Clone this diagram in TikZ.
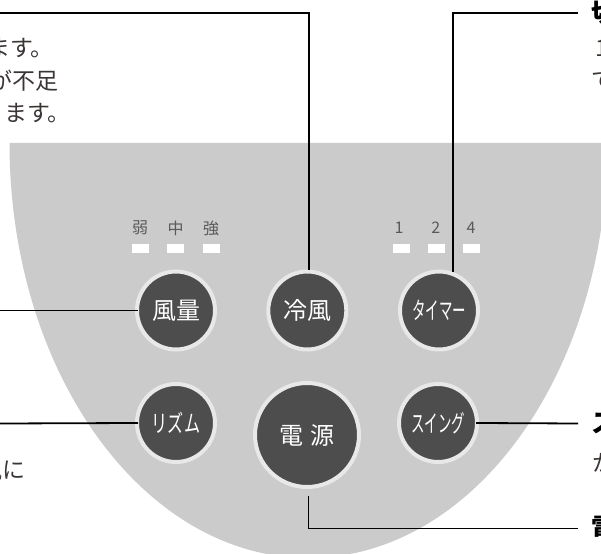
\documentclass[tikz,border=0pt]{standalone}
\usepackage{fontspec}
\setmainfont{Noto Sans CJK JP}
\newfontfamily\jpnarrow[FakeStretch=0.56]{Noto Sans CJK JP}
\newfontfamily\jpmid[FakeStretch=0.67]{Noto Sans CJK JP}
\definecolor{panelgray}{HTML}{CBCBCB}
\definecolor{btndark}{HTML}{4D4D4D}
\definecolor{btnring}{HTML}{E8E8E8}
\definecolor{txtdark}{HTML}{3A3534}
\definecolor{ledtxt}{HTML}{5A5A5A}

\begin{document}
\begin{tikzpicture}[x=1pt,y=-1pt]
        \tikzstyle{btn} = [draw=btnring, circle, fill=btndark, line width=4pt, minimum size=78pt, inner sep=0pt, text=white, font=\fontsize{24}{24}\selectfont]
        \tikzstyle{bigbtn} = [btn, minimum size=104pt, font=\fontsize{24}{24}\selectfont]
        \tikzstyle{led} = [fill=white, minimum width=17pt, minimum height=9pt, inner sep=0pt]
        \tikzstyle{ledlabel} = [text=ledtxt, inner sep=0pt, font=\fontsize{16}{16}\selectfont]
        \tikzstyle{lead} = [line width=1.8pt, black]
        \tikzstyle{into} = [lead, shorten >=-3pt]
        \tikzstyle{headl} = [anchor=west, inner xsep=13pt, inner ysep=0pt, text=black, font=\fontsize{26}{26}\selectfont\bfseries]
        \tikzstyle{notetext} = [text=txtdark, inner sep=0pt, font=\fontsize{23}{23}\selectfont]

        \clip (0,0) rectangle (601,553);

        % Panel
        \fill[panelgray] (9.5,143) arc (180:0:299 and 415) -- cycle;

        % Botones
        \node[btn](fuuryou) at (176,310.5) {風量};
        \node[btn](reifuu) at (307.3,310.5) {冷風};
        \node[btn](timer) at (439,310.5) {\jpnarrow タイマー};
        \node[btn](rhythm) at (176,423) {\jpmid リズム};
        \node[btn](swing) at (438,423) {\jpnarrow スイング};
        \node[bigbtn](dengen) at (307,435) {電\hspace{8pt}源};

        % Indicadores
        \foreach \x/\l/\t/\n in {140.5/140/弱/a,175.5/175.5/中/b,211/211/強/c,401.5/399/1/d,436.5/435.7/2/e,471.5/471/4/f} {
            \node[led](led\n) at (\x,248.5) {};
            \node[ledlabel](lab\n) at (\l,228) {\t};
        }

        % Textos cortados por el borde
        \node[notetext, anchor=east](top1) at (54,48) {ます。};
        \node[notetext, anchor=east](top2) at (59,81) {が不足};
        \node[notetext, anchor=east](top3) at (71,113) {ます。};
        \node[notetext, anchor=east](low1) at (26,470) {風に};
        \node[headl](kiri) at (578,13) {切};
        \node[notetext, anchor=west](tim1) at (595,48) {1};
        \node[notetext, anchor=west](tim2) at (591,81) {で};
        \node[headl](suin) at (578,423.5) {ス};
        \node[notetext, anchor=west](sui1) at (592,463) {か};
        \node[headl](denk) at (578,528.5) {電};

        % Enlaces
        \coordinate (reifuend) at (0,13);
        \coordinate (fuuend) at (0,310.5);
        \coordinate (rhyend) at (0,423.5);
        \coordinate (denstart) at (308.5,496);
        \draw[lead] (reifuend) -| (reifuu.88);
        \draw[lead] (kiri.west) -| (timer.70);
        \draw[into] (fuuend) -- (fuuryou.west);
        \draw[into] (rhyend) -- (rhythm.west);
        \draw[into] (suin.west) -- (swing.east);
        \draw[lead] (denstart) |- (denk.west);
    \end{tikzpicture}
\end{document}
